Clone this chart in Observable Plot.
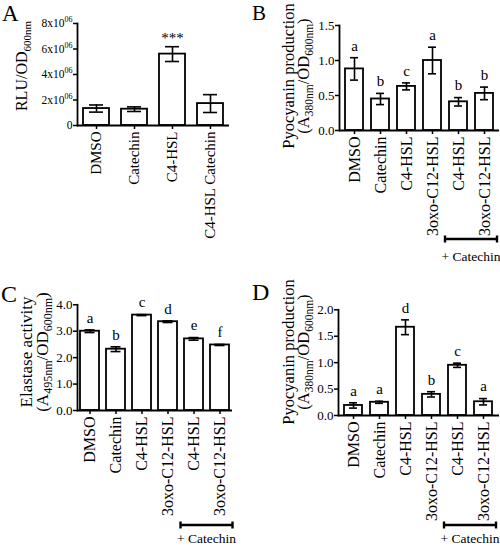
<!DOCTYPE html>
<html><head><meta charset="utf-8">
<script src="https://cdn.jsdelivr.net/npm/d3@7"></script>
<script src="https://cdn.jsdelivr.net/npm/@observablehq/plot@0.6"></script>
<style>
body{margin:0;background:#fff}
#fig{position:relative;width:500px;height:546px;overflow:hidden;background:#fff}
#fig svg{position:absolute}
</style>
</head><body><div id="fig"></div>
<script>
// ---- Panel A ----
const aLabels = ["DMSO", "Catechin", "C4-HSL", "C4-HSL Catechin"];
const aMeans = [1.33e6, 1.28e6, 5.6e6, 1.72e6];
const aSD = [0.28e6, 0.18e6, 0.58e6, 0.7e6];
const aNotes = ["", "", "***", ""];
const aTicks = [0, 2e6, 4e6, 6e6, 8e6];
const aTitle = [[["RLU/OD"], ["600nm", true]]];

// ---- Panel B ----
const bLabels = ["DMSO", "Catechin", "C4-HSL", "3oxo-C12-HSL", "C4-HSL", "3oxo-C12-HSL"];
const bMeans = [0.88, 0.45, 0.63, 1.0, 0.41, 0.53];
const bSD = [0.16, 0.08, 0.05, 0.19, 0.06, 0.09];
const bNotes = ["a", "b", "c", "a", "b", "b"];
const bTicks = [0, 0.5, 1.0, 1.5];
const bTitle = [[["Pyocyanin production"]], [["(A"], ["380nm", true], ["/OD"], ["600nm", true], [")"]]];

// ---- Panel C ----
const cLabels = ["DMSO", "Catechin", "C4-HSL", "3oxo-C12-HSL", "C4-HSL", "3oxo-C12-HSL"];
const cMeans = [3.0, 2.32, 3.61, 3.36, 2.71, 2.48];
const cSD = [0.05, 0.09, 0.02, 0.03, 0.05, 0.02];
const cNotes = ["a", "b", "c", "d", "e", "f"];
const cTicks = [0, 1, 2, 3, 4];
const cTitle = [[["Elastase activity"]], [["(A"], ["495nm", true], ["/OD"], ["600nm", true], [")"]]];

// ---- Panel D ----
const dLabels = ["DMSO", "Catechin", "C4-HSL", "3oxo-C12-HSL", "C4-HSL", "3oxo-C12-HSL"];
const dMeans = [0.19, 0.25, 1.67, 0.40, 0.95, 0.26];
const dSD = [0.05, 0.02, 0.14, 0.05, 0.04, 0.06];
const dNotes = ["a", "a", "d", "b", "c", "a"];
const dTicks = [0, 0.5, 1.0, 1.5, 2.0];
const dTitle = [[["Pyocyanin production"]], [["(A"], ["380nm", true], ["/OD"], ["600nm", true], [")"]]];

const catechinGroup = [4, 5];
const groupText = "+ Catechin";

const FONT = "'Liberation Serif', 'Times New Roman', serif";
const fig = document.getElementById("fig");

function makePanel(cfg) {
  const data = cfg.labels.map((l, i) => ({i, mean: cfg.means[i], sd: cfg.sd[i], note: cfg.notes[i]}));
  const svg = Plot.plot({
    width: cfg.width, height: cfg.height,
    marginLeft: cfg.ml, marginRight: cfg.mr, marginTop: cfg.mt, marginBottom: cfg.mb,
    style: {fontFamily: FONT, fontSize: "13px", color: "black", background: "transparent", overflow: "visible"},
    x: {type: "band", domain: d3.range(cfg.labels.length), paddingInner: cfg.pi, paddingOuter: cfg.po},
    y: {domain: [cfg.ticks[0], cfg.ticks[cfg.ticks.length - 1]]},
    marks: [
      Plot.barY(data, {x: "i", y: "mean", fill: "white", stroke: "black", strokeWidth: 1.8}),
      Plot.ruleX(data, {x: "i", y1: d => d.mean - d.sd, y2: d => d.mean + d.sd, strokeWidth: 1.6}),
      Plot.tickY(data, {x: "i", y: d => d.mean + d.sd, inset: cfg.cap, strokeWidth: 1.6}),
      Plot.tickY(data, {x: "i", y: d => d.mean - d.sd, inset: cfg.cap, strokeWidth: 1.6}),
      Plot.text(data.filter(d => d.note), {x: "i", y: d => d.mean + d.sd, text: "note", dy: cfg.noteDy, fontSize: 15}),
      Plot.axisY({ticks: cfg.ticks, tickFormat: cfg.fmt, tickSize: 4, tickPadding: 1, strokeWidth: 1.5, label: null, fontSize: cfg.yFont}),
      Plot.axisX({tickFormat: i => cfg.labels[i], tickRotate: -90, tickSize: 4, tickPadding: 2, strokeWidth: 1.5, label: null, fontSize: cfg.xFont}),
      Plot.ruleY([0], {strokeWidth: 1.8}),
      Plot.frame({anchor: "left", strokeWidth: 1.8})
    ]
  });
  svg.style.left = cfg.left + "px";
  svg.style.top = cfg.top + "px";
  fig.appendChild(svg);
  const s = d3.select(svg);

  // panel letter
  s.append("text").attr("x", cfg.letterPos[0]).attr("y", cfg.letterPos[1])
    .attr("text-anchor", "start")
    .attr("font-size", cfg.letterFont).attr("font-family", FONT).attr("fill", "black").text(cfg.letter);

  // y-axis title with subscripts
  const g = s.append("g").attr("font-family", FONT).attr("font-size", cfg.titleFont)
    .attr("text-anchor", "middle").attr("fill", "black");
  cfg.title.forEach((segs, k) => {
    const t = g.append("text").attr("transform", `translate(${cfg.titleX[k]},${cfg.titleY}) rotate(-90)`);
    let prevSub = false;
    segs.forEach(([str, sub]) => {
      const ts = t.append("tspan").text(str);
      if (sub) { ts.attr("font-size", cfg.subFont).attr("dy", 4); }
      else if (prevSub) { ts.attr("dy", -4); }
      prevSub = !!sub;
    });
  });

  // superscript exponents (panel A)
  if (cfg.sup) {
    s.selectAll('g[aria-label="y-axis tick label"] text').each(function() {
      const el = d3.select(this);
      if (el.text().includes("x10")) {
        el.append("tspan").attr("dy", -5).attr("font-size", 8).text(cfg.sup);
      }
    });
  }

  // group bracket
  if (cfg.bracket) {
    const xs = svg.scale("x");
    const step = xs.step ?? (xs.apply(1) - xs.apply(0));
    const bw = xs.bandwidth;
    const half = (step - bw) / 2;
    const x0 = xs.apply(catechinGroup[0]) - half;
    const x1 = xs.apply(catechinGroup[catechinGroup.length - 1]) + bw + half;
    const by = cfg.bracket[0];
    const bg = s.append("g").attr("stroke", "black").attr("stroke-width", 2.4);
    bg.append("line").attr("x1", x0).attr("x2", x1).attr("y1", by).attr("y2", by);
    bg.append("line").attr("x1", x0).attr("x2", x0).attr("y1", by - 3.5).attr("y2", by + 3.5);
    bg.append("line").attr("x1", x1).attr("x2", x1).attr("y1", by - 3.5).attr("y2", by + 3.5);
    s.append("text").attr("x", (x0 + x1) / 2).attr("y", cfg.bracket[1]).attr("dy", "0.35em")
      .attr("text-anchor", "middle").attr("font-family", FONT).attr("font-size", 13.5)
      .attr("fill", "black").text(groupText);
  }
}

makePanel({
  labels: aLabels, means: aMeans, sd: aSD, notes: aNotes, ticks: aTicks,
  fmt: d => d === 0 ? "0" : `${d / 1e6}x10`, sup: "06",
  left: 0, top: 0, width: 250, height: 270, ml: 77, mr: 21, mt: 23, mb: 145,
  pi: 0.31, po: 0.12, cap: 6, noteDy: -9, xFont: 15, yFont: 11.5,
  letter: "A", letterPos: [2, 21], letterFont: 23,
  title: aTitle, titleX: [27], titleY: 66, titleFont: 16, subFont: 11
});

makePanel({
  labels: bLabels, means: bMeans, sd: bSD, notes: bNotes, ticks: bTicks,
  fmt: d3.format(".1f"),
  left: 250, top: 0, width: 250, height: 270, ml: 89, mr: 1, mt: 25, mb: 140,
  pi: 0.3, po: 0.15, cap: 5, noteDy: -12, xFont: 16, yFont: 13,
  letter: "B", letterPos: [2, 20], letterFont: 21,
  title: bTitle, titleX: [44, 59], titleY: 76, titleFont: 16.5, subFont: 11.5,
  bracket: [239, 256]
});

makePanel({
  labels: cLabels, means: cMeans, sd: cSD, notes: cNotes, ticks: cTicks,
  fmt: d3.format(".1f"),
  left: 0, top: 270, width: 250, height: 276, ml: 77, mr: 18, mt: 34.3, mb: 136,
  pi: 0.28, po: 0.1, cap: 4.5, noteDy: -12, xFont: 16, yFont: 13,
  letter: "C", letterPos: [1, 32], letterFont: 24,
  title: cTitle, titleX: [32, 48], titleY: 82, titleFont: 17, subFont: 12,
  bracket: [255, 268]
});

makePanel({
  labels: dLabels, means: dMeans, sd: dSD, notes: dNotes, ticks: dTicks,
  fmt: d3.format(".1f"),
  left: 250, top: 270, width: 250, height: 276, ml: 88, mr: 1, mt: 39.3, mb: 131,
  pi: 0.3, po: 0.15, cap: 5, noteDy: -12, xFont: 16, yFont: 13,
  letter: "D", letterPos: [2, 30], letterFont: 24,
  title: dTitle, titleX: [44, 59], titleY: 82, titleFont: 16.5, subFont: 11.5,
  bracket: [255, 268]
});
</script></body></html>
